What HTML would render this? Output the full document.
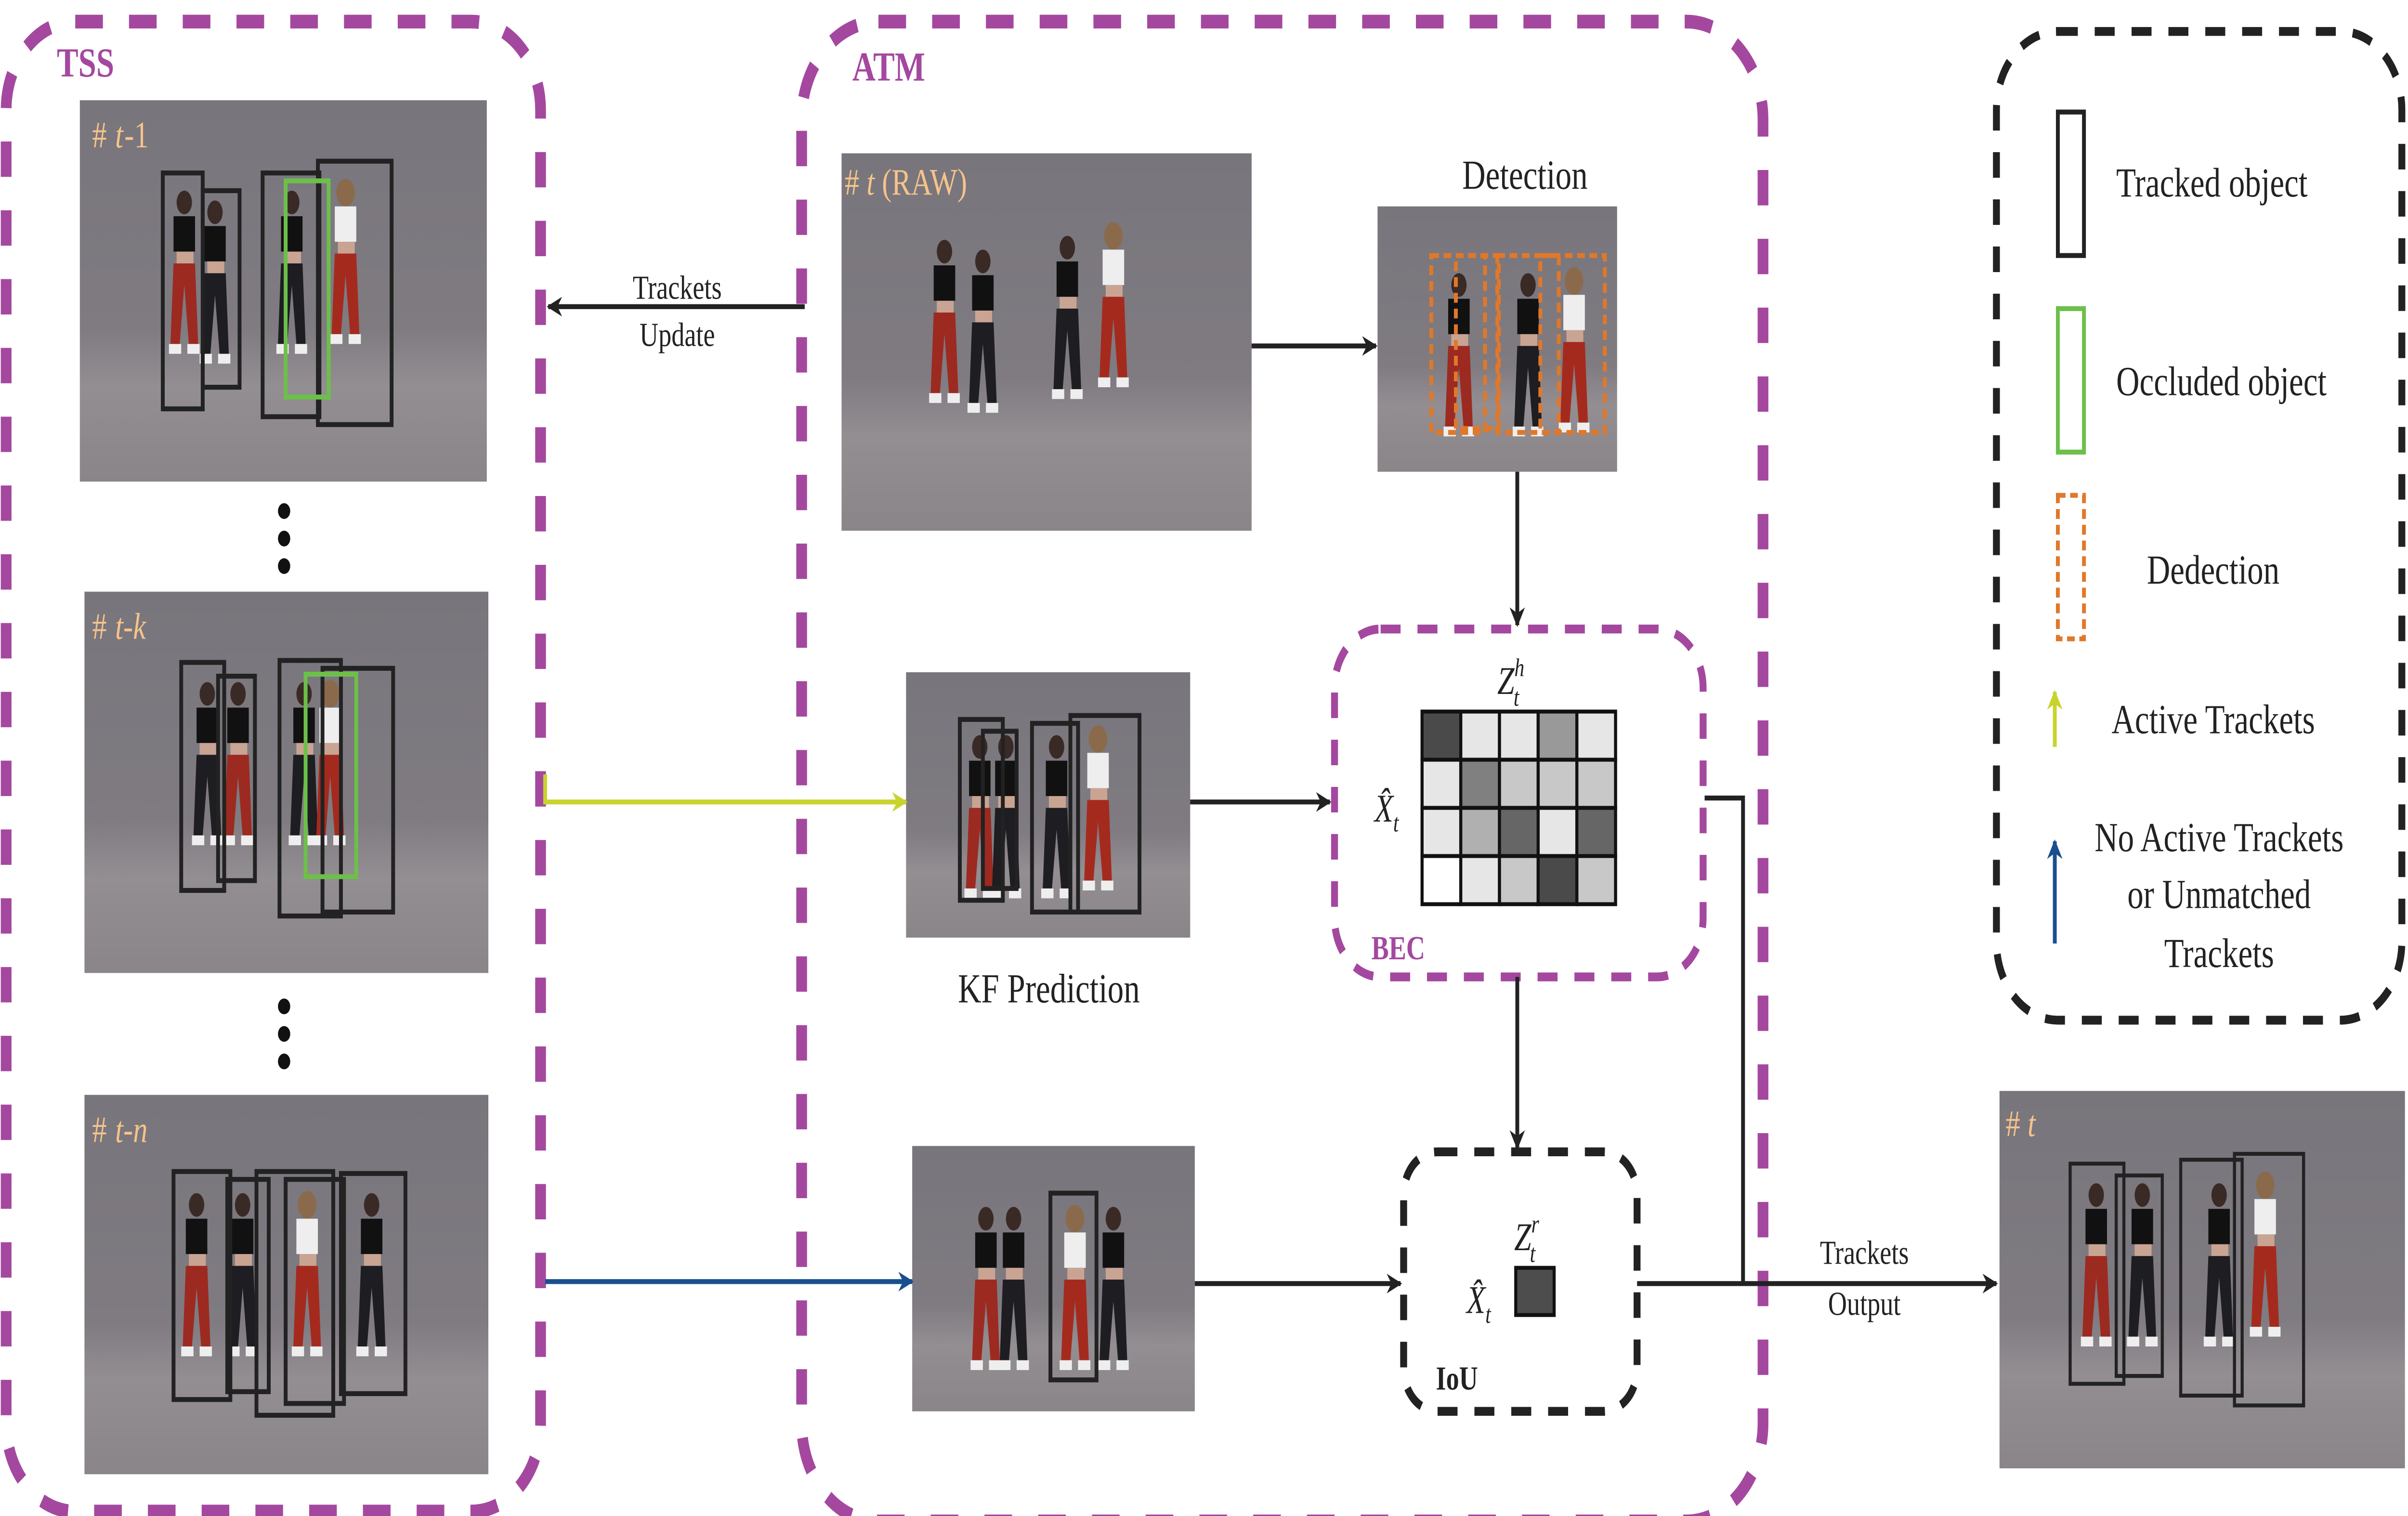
<!DOCTYPE html>
<html><head><meta charset="utf-8"><style>
html,body{margin:0;padding:0;background:#fff;width:100%;height:100%;overflow:hidden;}
svg{display:block;width:100vw;height:100vh;}
text{font-family:"Liberation Serif",serif;}
</style></head><body>
<svg viewBox="0 0 1568 771.25" preserveAspectRatio="none" xmlns="http://www.w3.org/2000/svg">
<defs>
<linearGradient id="bg" x1="0" y1="0" x2="0" y2="1">
<stop offset="0" stop-color="#78757c"/><stop offset="0.6" stop-color="#7f7b81"/><stop offset="0.75" stop-color="#938e92"/><stop offset="1" stop-color="#8a8589"/>
</linearGradient>
<marker id="ah" markerWidth="10" markerHeight="10" refX="9" refY="5" orient="auto" markerUnits="userSpaceOnUse"><path d="M0,0 L10,5 L0,10 L3,5 z" fill="#222"/></marker>
<marker id="ahy" markerWidth="10" markerHeight="10" refX="9" refY="5" orient="auto" markerUnits="userSpaceOnUse"><path d="M0,0 L10,5 L0,10 L3,5 z" fill="#c8d42c"/></marker>
<marker id="ahb" markerWidth="10" markerHeight="10" refX="9" refY="5" orient="auto" markerUnits="userSpaceOnUse"><path d="M0,0 L10,5 L0,10 L3,5 z" fill="#1a4f8f"/></marker>
<g id="dancer">
<ellipse cx="10" cy="8" rx="5" ry="6" fill="#3a2a25"/>
<rect x="3" y="15" width="14" height="18" fill="#111"/>
<rect x="5" y="33" width="11" height="6" fill="#c9a493"/>
<path d="M3,39 L17,39 L19,80 L13,80 L10,50 L7,80 L1,80 z" fill="#9c2a20"/>
<rect x="0" y="80" width="8" height="5" fill="#eee"/><rect x="12" y="80" width="8" height="5" fill="#eee"/>
</g>
<g id="dancerB">
<ellipse cx="10" cy="8" rx="5" ry="6" fill="#3a2a25"/>
<rect x="3" y="15" width="14" height="18" fill="#111"/>
<rect x="5" y="33" width="11" height="6" fill="#c9a493"/>
<path d="M3,39 L17,39 L19,80 L13,80 L10,50 L7,80 L1,80 z" fill="#1d1d22"/>
<rect x="0" y="80" width="8" height="5" fill="#eee"/><rect x="12" y="80" width="8" height="5" fill="#eee"/>
</g>
<g id="dancerW">
<ellipse cx="10" cy="8" rx="6" ry="7" fill="#8a6a4a"/>
<rect x="3" y="15" width="14" height="18" fill="#eee"/>
<rect x="5" y="33" width="11" height="6" fill="#c9a493"/>
<path d="M3,39 L17,39 L19,80 L13,80 L10,50 L7,80 L1,80 z" fill="#a52a1e"/>
<rect x="0" y="80" width="8" height="5" fill="#eee"/><rect x="12" y="80" width="8" height="5" fill="#eee"/>
</g>
</defs>

<rect x="4" y="11" width="348" height="758" rx="45" fill="none" stroke="#a4489f" stroke-width="7" stroke-dasharray="18 17"/>
<text x="37" y="39" font-size="21" font-weight="bold" fill="#a4489f">TSS</text>
<rect x="522" y="11" width="626" height="763" rx="50" fill="none" stroke="#a4489f" stroke-width="7" stroke-dasharray="18 17"/>
<text x="555" y="41" font-size="21" font-weight="bold" fill="#a4489f">ATM</text>
<rect x="1300" y="16" width="264" height="503" rx="40" fill="none" stroke="#222" stroke-width="4.5" stroke-dasharray="13 11"/>

<rect x="1340" y="57" width="17" height="73" fill="none" stroke="#222" stroke-width="2.5"/>
<text x="1378" y="100" font-size="21" fill="#222">Tracked object</text>
<rect x="1340" y="157" width="17" height="73" fill="none" stroke="#6cc04a" stroke-width="2.5"/>
<text x="1378" y="201" font-size="21" fill="#222">Occluded object</text>
<rect x="1340" y="252" width="17" height="73" fill="none" stroke="#e0782a" stroke-width="2.5" stroke-dasharray="5 3"/>
<text x="1398" y="297" font-size="21" fill="#222">Dedection</text>
<line x1="1338" y1="380" x2="1338" y2="352" stroke="#c8d42c" stroke-width="2.5" marker-end="url(#ahy)"/>
<text x="1375" y="373" font-size="21" fill="#222">Active Trackets</text>
<line x1="1338" y1="480" x2="1338" y2="428" stroke="#1a4f8f" stroke-width="2.5" marker-end="url(#ahb)"/>
<text x="1445" y="433" font-size="21" fill="#222" text-anchor="middle">No Active Trackets</text>
<text x="1445" y="462" font-size="21" fill="#222" text-anchor="middle">or Unmatched</text>
<text x="1445" y="492" font-size="21" fill="#222" text-anchor="middle">Trackets</text>

<g>
<rect x="52" y="51" width="265" height="194" fill="url(#bg)"/>
<use href="#dancer" x="110" y="95"/><use href="#dancerB" x="130" y="100"/><use href="#dancerB" x="180" y="95"/><use href="#dancerW" x="215" y="90"/>
<rect x="106" y="88" width="26" height="120" fill="none" stroke="#222" stroke-width="2.5"/>
<rect x="132" y="97" width="24" height="100" fill="none" stroke="#222" stroke-width="2.5"/>
<rect x="171" y="88" width="37" height="124" fill="none" stroke="#222" stroke-width="2.5"/>
<rect x="207" y="82" width="48" height="134" fill="none" stroke="#222" stroke-width="2.5"/>
<rect x="186" y="92" width="28" height="110" fill="none" stroke="#6cc04a" stroke-width="2.5"/>
<text x="60" y="75" font-size="19" fill="#f5c38a">#</text><text x="75" y="75" font-size="19" fill="#f5c38a" font-style="italic">t</text><text x="81" y="75" font-size="19" fill="#f5c38a">-1</text>
</g>
<circle cx="185" cy="260" r="4" fill="#111"/><circle cx="185" cy="274" r="4" fill="#111"/><circle cx="185" cy="288" r="4" fill="#111"/>
<g>
<rect x="55" y="301" width="263" height="194" fill="url(#bg)"/>
<use href="#dancerB" x="125" y="345"/><use href="#dancer" x="145" y="345"/><use href="#dancerB" x="188" y="345"/><use href="#dancerW" x="205" y="345"/>
<rect x="118" y="337" width="28" height="116" fill="none" stroke="#222" stroke-width="2.5"/>
<rect x="142" y="344" width="24" height="104" fill="none" stroke="#222" stroke-width="2.5"/>
<rect x="182" y="336" width="40" height="130" fill="none" stroke="#222" stroke-width="2.5"/>
<rect x="210" y="340" width="46" height="124" fill="none" stroke="#222" stroke-width="2.5"/>
<rect x="199" y="343" width="33" height="103" fill="none" stroke="#6cc04a" stroke-width="2.5"/>
<text x="60" y="325" font-size="19" fill="#f5c38a">#</text><text x="75" y="325" font-size="19" fill="#f5c38a" font-style="italic">t-k</text>
</g>
<circle cx="185" cy="512" r="4" fill="#111"/><circle cx="185" cy="526" r="4" fill="#111"/><circle cx="185" cy="540" r="4" fill="#111"/>
<g>
<rect x="55" y="557" width="263" height="193" fill="url(#bg)"/>
<use href="#dancer" x="118" y="605"/><use href="#dancerB" x="148" y="605"/><use href="#dancerW" x="190" y="605"/><use href="#dancerB" x="232" y="605"/>
<rect x="113" y="596" width="37" height="116" fill="none" stroke="#222" stroke-width="2.5"/>
<rect x="148" y="600" width="27" height="108" fill="none" stroke="#222" stroke-width="2.5"/>
<rect x="167" y="596" width="50" height="124" fill="none" stroke="#222" stroke-width="2.5"/>
<rect x="186" y="600" width="38" height="114" fill="none" stroke="#222" stroke-width="2.5"/>
<rect x="222" y="597" width="42" height="112" fill="none" stroke="#222" stroke-width="2.5"/>
<text x="60" y="581" font-size="19" fill="#f5c38a">#</text><text x="75" y="581" font-size="19" fill="#f5c38a" font-style="italic">t-n</text>
</g>

<g>
<rect x="548" y="78" width="267" height="192" fill="url(#bg)"/>
<use href="#dancer" x="605" y="120"/><use href="#dancerB" x="630" y="125"/><use href="#dancerB" x="685" y="118"/><use href="#dancerW" x="715" y="112"/>
<text x="550" y="99" font-size="19" fill="#f5c38a"># <tspan font-style="italic">t</tspan> (RAW)</text>
</g>
<text x="993" y="96" font-size="21" fill="#222" text-anchor="middle">Detection</text>
<g>
<rect x="897" y="105" width="156" height="135" fill="url(#bg)"/>
<use href="#dancer" x="940" y="137"/><use href="#dancerB" x="985" y="137"/><use href="#dancerW" x="1015" y="135"/>
<rect x="932" y="130" width="35" height="90" fill="none" stroke="#e0782a" stroke-width="2.5" stroke-dasharray="5 3"/>
<rect x="948" y="130" width="28" height="88" fill="none" stroke="#e0782a" stroke-width="2.5" stroke-dasharray="5 3"/>
<rect x="975" y="130" width="40" height="90" fill="none" stroke="#e0782a" stroke-width="2.5" stroke-dasharray="5 3"/>
<rect x="1003" y="130" width="42" height="90" fill="none" stroke="#e0782a" stroke-width="2.5" stroke-dasharray="5 3"/>
</g>
<g>
<rect x="590" y="342" width="185" height="135" fill="url(#bg)"/>
<use href="#dancer" x="628" y="372"/><use href="#dancerB" x="645" y="372"/><use href="#dancerB" x="678" y="372"/><use href="#dancerW" x="705" y="368"/>
<rect x="625" y="366" width="28" height="92" fill="none" stroke="#222" stroke-width="2.5"/>
<rect x="640" y="372" width="22" height="80" fill="none" stroke="#222" stroke-width="2.5"/>
<rect x="672" y="368" width="30" height="96" fill="none" stroke="#222" stroke-width="2.5"/>
<rect x="697" y="364" width="45" height="100" fill="none" stroke="#222" stroke-width="2.5"/>
</g>
<text x="683" y="510" font-size="21" fill="#222" text-anchor="middle">KF Prediction</text>
<g>
<rect x="594" y="583" width="184" height="135" fill="url(#bg)"/>
<use href="#dancer" x="632" y="612"/><use href="#dancerB" x="650" y="612"/><use href="#dancerW" x="690" y="612"/><use href="#dancerB" x="715" y="612"/>
<rect x="684" y="607" width="30" height="95" fill="none" stroke="#222" stroke-width="2.5"/>
</g>
<g>
<rect x="1302" y="555" width="264" height="192" fill="url(#bg)"/>
<use href="#dancer" x="1355" y="600"/><use href="#dancerB" x="1385" y="600"/><use href="#dancerB" x="1435" y="600"/><use href="#dancerW" x="1465" y="595"/>
<rect x="1348" y="592" width="35" height="112" fill="none" stroke="#222" stroke-width="2"/>
<rect x="1378" y="598" width="30" height="102" fill="none" stroke="#222" stroke-width="2"/>
<rect x="1420" y="590" width="40" height="120" fill="none" stroke="#222" stroke-width="2"/>
<rect x="1455" y="587" width="45" height="128" fill="none" stroke="#222" stroke-width="2"/>
<text x="1306" y="578" font-size="19" fill="#f5c38a"># <tspan font-style="italic">t</tspan></text>
</g>

<rect x="869" y="320" width="240" height="177" rx="30" fill="none" stroke="#a4489f" stroke-width="4.5" stroke-dasharray="13 11"/>
<text x="893" y="488" font-size="17" font-weight="bold" fill="#a4489f">BEC</text>
<g stroke="#111" stroke-width="2">
<rect x="926" y="362" width="25.2" height="24.5" fill="#4a4a4a"/><rect x="951.2" y="362" width="25.2" height="24.5" fill="#e6e6e6"/><rect x="976.4" y="362" width="25.2" height="24.5" fill="#e6e6e6"/><rect x="1001.6" y="362" width="25.2" height="24.5" fill="#999"/><rect x="1026.8" y="362" width="25.2" height="24.5" fill="#e6e6e6"/>
<rect x="926" y="386.5" width="25.2" height="24.5" fill="#e6e6e6"/><rect x="951.2" y="386.5" width="25.2" height="24.5" fill="#808080"/><rect x="976.4" y="386.5" width="25.2" height="24.5" fill="#c8c8c8"/><rect x="1001.6" y="386.5" width="25.2" height="24.5" fill="#c8c8c8"/><rect x="1026.8" y="386.5" width="25.2" height="24.5" fill="#c8c8c8"/>
<rect x="926" y="411" width="25.2" height="24.5" fill="#e6e6e6"/><rect x="951.2" y="411" width="25.2" height="24.5" fill="#b0b0b0"/><rect x="976.4" y="411" width="25.2" height="24.5" fill="#666"/><rect x="1001.6" y="411" width="25.2" height="24.5" fill="#e6e6e6"/><rect x="1026.8" y="411" width="25.2" height="24.5" fill="#666"/>
<rect x="926" y="435.5" width="25.2" height="24.5" fill="#fff"/><rect x="951.2" y="435.5" width="25.2" height="24.5" fill="#e6e6e6"/><rect x="976.4" y="435.5" width="25.2" height="24.5" fill="#c8c8c8"/><rect x="1001.6" y="435.5" width="25.2" height="24.5" fill="#4a4a4a"/><rect x="1026.8" y="435.5" width="25.2" height="24.5" fill="#c8c8c8"/>
</g>
<text x="975" y="353" font-size="20" font-style="italic" fill="#222">Z<tspan font-size="13" dy="-9">h</tspan><tspan font-size="13" dx="-7" dy="15">t</tspan></text>
<text x="895" y="418" font-size="20" font-style="italic" fill="#222">X̂<tspan font-size="13" dy="5">t</tspan></text>

<rect x="914" y="586" width="152" height="132" rx="22" fill="none" stroke="#222" stroke-width="4.5" stroke-dasharray="13 11"/>
<text x="935" y="707" font-size="17" font-weight="bold" fill="#222">IoU</text>
<text x="986" y="636" font-size="20" font-style="italic" fill="#222">Z<tspan font-size="13" dy="-9">r</tspan><tspan font-size="13" dx="-6" dy="15">t</tspan></text>
<text x="955" y="668" font-size="20" font-style="italic" fill="#222">X̂<tspan font-size="13" dy="5">t</tspan></text>
<rect x="987" y="645" width="25" height="24" fill="#4d4d4d" stroke="#111" stroke-width="2"/>

<g stroke="#222" stroke-width="2.5" fill="none">
<line x1="524" y1="156" x2="357" y2="156" marker-end="url(#ah)"/>
<line x1="815" y1="176" x2="896" y2="176" marker-end="url(#ah)"/>
<line x1="988" y1="240" x2="988" y2="318" marker-end="url(#ah)"/>
<line x1="775" y1="408" x2="866" y2="408" marker-end="url(#ah)"/>
<line x1="988" y1="497" x2="988" y2="584" marker-end="url(#ah)"/>
<line x1="778" y1="653" x2="912" y2="653" marker-end="url(#ah)"/>
<line x1="1066" y1="653" x2="1300" y2="653" marker-end="url(#ah)"/>
<polyline points="1110,406 1135,406 1135,653"/>
</g>
<polyline points="355,394 355,408 590,408" stroke="#c8d42c" stroke-width="2.5" fill="none" marker-end="url(#ahy)"/>
<line x1="355" y1="652" x2="594" y2="652" stroke="#1a4f8f" stroke-width="2.5" marker-end="url(#ahb)"/>
<text x="441" y="152" font-size="17" fill="#222" text-anchor="middle">Trackets</text>
<text x="441" y="176" font-size="17" fill="#222" text-anchor="middle">Update</text>
<text x="1214" y="643" font-size="17" fill="#222" text-anchor="middle">Trackets</text>
<text x="1214" y="669" font-size="17" fill="#222" text-anchor="middle">Output</text>
</svg>
</body></html>
